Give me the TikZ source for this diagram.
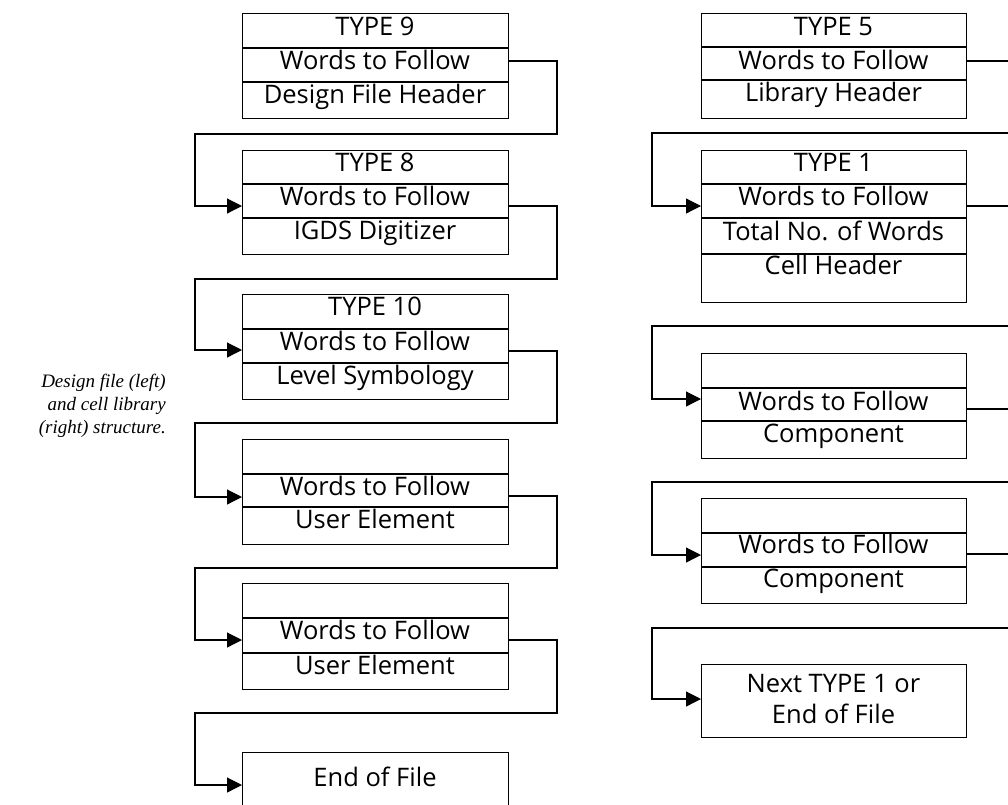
\documentclass[tikz,border=0pt]{standalone}
\usepackage{fontspec}
\usetikzlibrary{arrows.meta}
\newfontfamily\lblfont{Open Sans}
\newfontfamily\capfont{Liberation Serif}
\tikzset{
  box/.style={draw, line width=1.2pt, minimum width=266pt, inner sep=0pt, anchor=north west},
  div/.style={line width=1.1pt},
  lbl/.style={font=\lblfont\fontsize{25.5}{25.5}\selectfont, anchor=base, inner sep=0pt},
  capt/.style={font=\capfont\itshape\fontsize{19}{22}\selectfont, anchor=base east, inner sep=0pt},
  conn/.style={line width=1.2pt},
  arr/.style={conn, -{Triangle[length=15pt,width=15pt]}}
}
\begin{document}
\begin{tikzpicture}[x=1pt,y=-1pt]
\useasboundingbox (0,0) rectangle (1008,804);
\clip (0,0) rectangle (1008,804);
% ---------- left column ----------
\node[box, minimum height=105pt] (b1) at (242,13) {};
\draw[div] (b1.west |- 0,48) -- (b1.east |- 0,48);
\draw[div] (b1.west |- 0,82) -- (b1.east |- 0,82);
\node[lbl] (t1a) at (375,35) {TYPE 9};
\node[lbl] (t1b) at (375,69) {Words to Follow};
\node[lbl] (t1c) at (375,103) {Design File Header};

\node[box, minimum height=104pt] (b2) at (242,150) {};
\draw[div] (b2.west |- 0,184) -- (b2.east |- 0,184);
\draw[div] (b2.west |- 0,218) -- (b2.east |- 0,218);
\node[lbl] (t2a) at (375,171) {TYPE 8};
\node[lbl] (t2b) at (375,205) {Words to Follow};
\node[lbl] (t2c) at (375,239) {IGDS Digitizer};

\node[box, minimum height=105pt] (b3) at (242,294) {};
\draw[div] (b3.west |- 0,329) -- (b3.east |- 0,329);
\draw[div] (b3.west |- 0,363) -- (b3.east |- 0,363);
\node[lbl] (t3a) at (375,315) {TYPE 10};
\node[lbl] (t3b) at (375,350) {Words to Follow};
\node[lbl] (t3c) at (375,384) {Level Symbology};

\node[box, minimum height=105pt] (b4) at (242,439) {};
\draw[div] (b4.west |- 0,474) -- (b4.east |- 0,474);
\draw[div] (b4.west |- 0,507) -- (b4.east |- 0,507);
\node[lbl] (t4b) at (375,495) {Words to Follow};
\node[lbl] (t4c) at (375,528) {User Element};

\node[box, minimum height=106pt] (b5) at (242,583) {};
\draw[div] (b5.west |- 0,618) -- (b5.east |- 0,618);
\draw[div] (b5.west |- 0,653) -- (b5.east |- 0,653);
\node[lbl] (t5b) at (375,639) {Words to Follow};
\node[lbl] (t5c) at (375,674) {User Element};

\node[box, minimum height=80pt] (b6) at (242,752) {};
\node[lbl] (t6) at (375,786) {End of File};

\draw[arr] (b1.east |- 0,61) -| (557,134) -| (195,206) -- (b2.west |- 0,206);
\draw[arr] (b2.east |- 0,206) -| (557,279) -| (195,350) -- (b3.west |- 0,350);
\draw[arr] (b3.east |- 0,351) -| (557,423) -| (195,497) -- (b4.west |- 0,497);
\draw[arr] (b4.east |- 0,496) -| (557,568) -| (195,640) -- (b5.west |- 0,640);
\draw[arr] (b5.east |- 0,640) -| (557,713) -| (195,785) -- (b6.west |- 0,785);

% ---------- right column ----------
\begin{scope}[box/.append style={minimum width=265pt}]
\node[box, minimum height=105pt] (r1) at (701,13) {};
\draw[div] (r1.west |- 0,47) -- (r1.east |- 0,47);
\draw[div] (r1.west |- 0,80) -- (r1.east |- 0,80);
\node[lbl] (s1a) at (833.5,35) {TYPE 5};
\node[lbl] (s1b) at (833.5,69) {Words to Follow};
\node[lbl] (s1c) at (833.5,101) {Library Header};

\node[box, minimum height=152pt] (r2) at (701,150) {};
\draw[div] (r2.west |- 0,184) -- (r2.east |- 0,184);
\draw[div] (r2.west |- 0,218) -- (r2.east |- 0,218);
\draw[div] (r2.west |- 0,254) -- (r2.east |- 0,254);
\node[lbl] (s2a) at (833.5,171) {TYPE 1};
\node[lbl] (s2b) at (833.5,205) {Words to Follow};
\node[lbl] (s2c) at (833.5,240) {Total No. of Words};
\node[lbl] (s2d) at (833.5,274) {Cell Header};

\node[box, minimum height=105pt] (r3) at (701,353) {};
\draw[div] (r3.west |- 0,388) -- (r3.east |- 0,388);
\draw[div] (r3.west |- 0,421) -- (r3.east |- 0,421);
\node[lbl] (s3b) at (833.5,410) {Words to Follow};
\node[lbl] (s3c) at (833.5,442) {Component};

\node[box, minimum height=105pt] (r4) at (701,498) {};
\draw[div] (r4.west |- 0,533) -- (r4.east |- 0,533);
\draw[div] (r4.west |- 0,567) -- (r4.east |- 0,567);
\node[lbl] (s4b) at (833.5,553) {Words to Follow};
\node[lbl] (s4c) at (833.5,587) {Component};

\node[box, minimum height=73pt] (r5) at (701,664) {};
\node[lbl] (s5a) at (833.5,692) {Next TYPE 1 or};
\node[lbl] (s5b) at (833.5,723) {End of File};
\end{scope}

\draw[arr] (r1.east |- 0,61) -| (1020,133) -| (652,206) -- (r2.west |- 0,206);
\draw[arr] (r2.east |- 0,206) -| (1020,326) -| (652,399) -- (r3.west |- 0,399);
\draw[arr] (r3.east |- 0,409) -| (1020,482) -| (652,555) -- (r4.west |- 0,555);
\draw[arr] (r4.east |- 0,554) -| (1020,628) -| (652,699) -- (r5.west |- 0,699);

% ---------- caption ----------
\node[capt] (cap1) at (166,387) {Design file (left)};
\node[capt] (cap2) at (166,410) {and cell library};
\node[capt] (cap3) at (166,433) {(right) structure.};
\end{tikzpicture}
\end{document}
